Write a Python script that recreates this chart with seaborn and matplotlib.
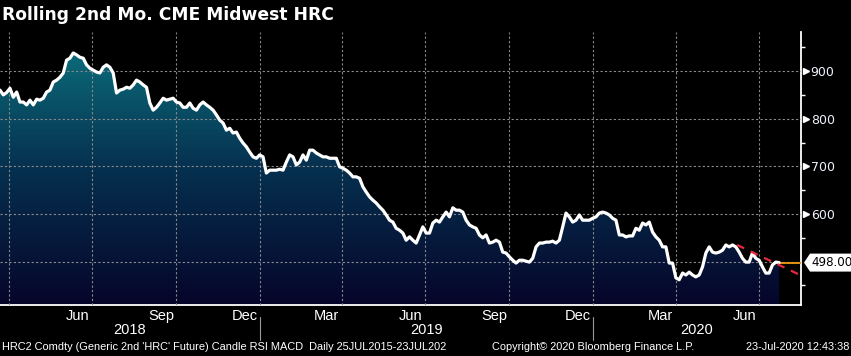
import numpy as np
import pandas as pd
import seaborn as sns
import matplotlib.pyplot as plt
import matplotlib.dates as mdates
from matplotlib.colors import LinearSegmentedColormap
from matplotlib.patches import Polygon
from matplotlib.transforms import blended_transform_factory

# rolling 2nd month CME Midwest HRC (~every 3.6 days)
price = [
    860, 850, 855, 864, 845, 856, 835, 835, 829, 839, 829, 841, 839, 843, 856, 860,
    877, 881, 887, 896, 923, 927, 938, 934, 929, 927, 913, 906, 902, 898, 896, 908,
    913, 908, 896, 854, 860, 862, 866,
    864, 871, 881, 877, 871, 866, 833, 818, 824, 833, 843, 839, 841, 843, 835, 833,
    824, 824, 833, 822, 818, 829, 835, 829, 824, 818, 808, 797, 791, 776, 780, 770,
    772, 759, 749, 741, 730, 720, 717,
    724, 720, 686, 692, 692, 692, 694, 692, 709, 724, 720, 703, 709, 724, 713, 734,
    734, 728, 724, 720, 720, 717, 717, 717, 699, 696, 692, 686, 678, 678, 675, 657,
    646, 636, 629, 623, 615, 608, 598,
    587, 583, 570, 566, 560, 545, 552, 545, 539, 556, 573, 560, 560, 581, 587, 583,
    594, 604, 594, 613, 608, 608, 604, 587, 577, 573, 570, 556, 550, 556, 539, 541,
    545, 541, 520, 518, 510, 503, 497,
    503, 503, 501, 499, 507, 531, 539, 539, 541, 541, 543, 539, 545, 573, 602, 594,
    583, 587, 598, 587, 587, 587, 591, 594, 602, 604, 602, 598, 591, 587, 556, 556,
    552, 554, 554, 570, 566, 581, 577,
    583, 562, 552, 545, 531, 531, 497, 497, 466, 462, 476, 472, 478, 472, 468, 472,
    489, 518, 531, 520, 518, 520, 524, 535, 531, 535, 531, 520, 507, 499, 499, 518,
    507, 503, 489, 476, 476, 493, 499, 498,
]
start_date = "2018-03-22"
end_date = "2020-07-23"
axis_end = "2020-08-16"
last_price = 498.00
trend_dates = ["2020-06-07", "2020-08-16"]
trend_values = [535, 471]
years = ["2018", "2019", "2020"]
ytick_values = [500, 600, 700, 800, 900]
ytick_labels = ["", "600", "700", "800", "900"]

title = "Rolling 2nd Mo. CME Midwest HRC"
footer_left = "HRC2 Comdty (Generic 2nd 'HRC' Future) Candle RSI MACD  Daily 25JUL2015-23JUL202"
footer_mid = "Copyright\u00a9 2020 Bloomberg Finance L.P."
footer_right = "23-Jul-2020 12:43:38"

df = pd.DataFrame({
    "date": pd.date_range(start_date, end_date, periods=len(price)),
    "price": price,
})

sns.set_style("dark", {"axes.facecolor": "black", "figure.facecolor": "black"})
plt.rcParams["font.family"] = ["DejaVu Sans"]
narrow = ["Liberation Sans", "DejaVu Sans"]

fig = plt.figure(figsize=(8.51, 3.56), dpi=100, facecolor="black")
ax = fig.add_axes([0, 1 - 305 / 356, 801 / 851, 273 / 356])
ax.set_facecolor("black")

ylo, yhi = 409, 982
x0 = pd.Timestamp(start_date)
x1 = pd.Timestamp(axis_end)

sns.lineplot(data=df, x="date", y="price", color="white", lw=2.3, ax=ax, zorder=5)

# gradient fill under the line
cmap = LinearSegmentedColormap.from_list("bbg", ["#05052a", "#06304f", "#0c7480"])
grad = np.linspace(1, 0, 256).reshape(-1, 1)
im = ax.imshow(grad, aspect="auto", cmap=cmap, origin="upper", zorder=1,
               extent=[mdates.date2num(x0), mdates.date2num(x1), ylo, yhi])
poly = ax.fill_between(df["date"], df["price"], ylo, color="none", lw=0)
im.set_clip_path(poly.get_paths()[0], transform=ax.transData)

ax.set_xlim(x0, x1)
ax.set_ylim(ylo, yhi)

# grid
grid_kw = dict(color="#8a8a8a", lw=0.8, ls=(0, (2, 2)), zorder=3)
for q in pd.date_range("2018-04-01", "2020-07-01", freq="QS"):
    ax.axvline(q, **grid_kw)
for v in ytick_values:
    ax.axhline(v, **grid_kw)

# trend + last price
ax.plot(pd.to_datetime(trend_dates), trend_values, color="#e8283c", lw=1.6,
        dashes=(3.5, 3.2), zorder=6, clip_on=False)
ax.plot([df["date"].iloc[-1], x1], [last_price, last_price], color="#f39c12",
        lw=1.3, zorder=4)

# spines
for s in ["left", "top"]:
    ax.spines[s].set_visible(False)
for s in ["right", "bottom"]:
    ax.spines[s].set_visible(True)
    ax.spines[s].set_color("white")
    ax.spines[s].set_linewidth(1.3)

# y axis on the right
ax.yaxis.tick_right()
ax.set_yticks(ytick_values)
ax.set_yticklabels(ytick_labels)
ax.set_yticks(np.arange(450, 1000, 100), minor=True)
ax.tick_params(axis="y", which="major", length=0, pad=7, labelsize=9,
               labelcolor="#eef2ff")
ax.tick_params(axis="y", which="minor", length=3, width=1, color="white", direction="out")
bt = blended_transform_factory(ax.transAxes, ax.transData)
ax.plot([1.006] * 4, ytick_values[1:], marker=">", ms=5, color="white", ls="none",
        transform=bt, clip_on=False)

# last price tag
h = 9 / 0.4768
tag = Polygon([(1 + 3 / 801, last_price), (1 + 9 / 801, last_price + h),
               (1 + 52 / 801, last_price + h), (1 + 52 / 801, last_price - h),
               (1 + 9 / 801, last_price - h)],
              closed=True, fc="white", ec="none", transform=bt, clip_on=False, zorder=7)
ax.add_patch(tag)
ax.text(1 + 31 / 801, last_price, f"{last_price:.2f}", transform=bt, ha="center",
        va="center", fontsize=8.6, color="black", zorder=8)

# x axis: months
ax.xaxis.set_major_locator(mdates.MonthLocator(bymonth=[3, 6, 9, 12], bymonthday=15))
ax.xaxis.set_major_formatter(mdates.DateFormatter("%b"))
ax.xaxis.set_minor_locator(mdates.MonthLocator())
ax.tick_params(axis="x", which="major", length=0, pad=3, labelsize=10.5, labelcolor="white")
ax.tick_params(axis="x", which="minor", length=4, width=1, color="white", direction="out")
for lab in ax.get_xticklabels():
    lab.set_family(narrow)
ax.set_xlabel("")
ax.set_ylabel("")

# year labels and separators
bx = blended_transform_factory(ax.transData, ax.transAxes)
bounds = [x0, pd.Timestamp("2019-01-01"), pd.Timestamp("2020-01-01"), x1]
for i, yr in enumerate(years):
    mid = bounds[i] + (bounds[i + 1] - bounds[i]) / 2
    ax.text(mid, -0.092, yr, transform=bx, ha="center", va="center", fontsize=10.5,
            color="white", family=narrow)
for b in bounds[1:3]:
    ax.plot([b, b], [-0.045, -0.13], transform=bx, color="#9a9a9a", lw=0.8, clip_on=False)

fig.text(2 / 851, 1 - 15 / 356, title, ha="left", va="center", fontsize=12.3,
         fontweight="bold", color="white")
fig.text(2 / 851, 1 - 347 / 356, footer_left, ha="left", va="center", fontsize=7.9,
         color="white", family=narrow)
fig.text(492 / 851, 1 - 347 / 356, footer_mid, ha="left", va="center", fontsize=7.9,
         color="white", family=narrow)
fig.text(849 / 851, 1 - 347 / 356, footer_right, ha="right", va="center", fontsize=7.9,
         color="white", family=narrow)

fig.savefig("out.png", dpi=100, facecolor="black")
